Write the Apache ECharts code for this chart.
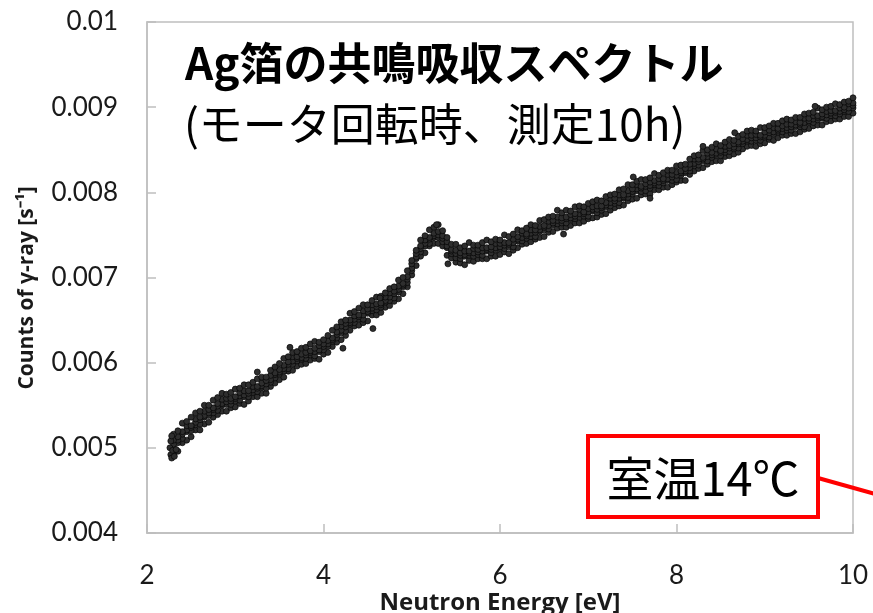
<!DOCTYPE html>
<html><head><meta charset="utf-8">
<script src="https://cdn.jsdelivr.net/npm/echarts@6/dist/echarts.min.js"></script>
<style>html,body{margin:0;padding:0;background:#fff}#c{width:873px;height:613px}</style>
</head><body><div id="c"></div>
<script>
const xTickValues = [2, 4, 6, 8, 10];
const yTickValues = [0.004, 0.005, 0.006, 0.007, 0.008, 0.009, 0.01];

const energy = [
2.30,2.35,2.40,2.45,2.50,2.55,2.60,2.65,2.70,2.75,
2.80,2.85,2.90,2.95,3.00,3.05,3.10,3.15,3.20,3.25,
3.30,3.35,3.40,3.45,3.50,3.55,3.60,3.65,3.70,3.75,
3.80,3.85,3.90,3.95,4.00,4.05,4.10,4.15,4.20,4.25,
4.30,4.35,4.40,4.45,4.50,4.55,4.60,4.65,4.70,4.75,
4.80,4.85,4.90,4.95,5.00,5.05,5.10,5.15,5.20,5.25,
5.30,5.35,5.40,5.45,5.50,5.55,5.60,5.65,5.70,5.75,
5.80,5.85,5.90,5.95,6.00,6.05,6.10,6.15,6.20,6.25,
6.30,6.35,6.40,6.45,6.50,6.55,6.60,6.65,6.70,6.75,
6.80,6.85,6.90,6.95,7.00,7.05,7.10,7.15,7.20,7.25,
7.30,7.35,7.40,7.45,7.50,7.55,7.60,7.65,7.70,7.75,
7.80,7.85,7.90,7.95,8.00,8.05,8.10,8.15,8.20,8.25,
8.30,8.35,8.40,8.45,8.50,8.55,8.60,8.65,8.70,8.75,
8.80,8.85,8.90,8.95,9.00,9.05,9.10,9.15,9.20,9.25,
9.30,9.35,9.40,9.45,9.50,9.55,9.60,9.65,9.70,9.75,
9.80,9.85,9.90,9.95,10.00];

// band of counts: top edge, upper-inner, centre, lower-inner, bottom edge
const countsTop = [
0.00516,0.00520,0.00529,0.00531,0.00536,0.00541,0.00543,0.00550,0.00550,0.00556,
0.00559,0.00564,0.00563,0.00565,0.00569,0.00570,0.00574,0.00574,0.00577,0.00581,
0.00583,0.00583,0.00591,0.00595,0.00599,0.00605,0.00607,0.00612,0.00613,0.00617,
0.00618,0.00622,0.00625,0.00624,0.00627,0.00632,0.00638,0.00642,0.00648,0.00650,
0.00658,0.00660,0.00664,0.00668,0.00668,0.00673,0.00677,0.00678,0.00682,0.00687,
0.00689,0.00697,0.00700,0.00708,0.00720,0.00732,0.00744,0.00749,0.00756,0.00759,
0.00762,0.00755,0.00747,0.00739,0.00739,0.00735,0.00737,0.00741,0.00738,0.00738,
0.00741,0.00744,0.00742,0.00745,0.00744,0.00750,0.00748,0.00751,0.00756,0.00755,
0.00758,0.00762,0.00761,0.00767,0.00768,0.00771,0.00772,0.00779,0.00776,0.00779,
0.00778,0.00783,0.00784,0.00783,0.00787,0.00789,0.00791,0.00790,0.00795,0.00797,
0.00798,0.00803,0.00804,0.00809,0.00809,0.00813,0.00815,0.00815,0.00817,0.00822,
0.00820,0.00823,0.00826,0.00826,0.00831,0.00832,0.00833,0.00839,0.00843,0.00844,
0.00849,0.00850,0.00853,0.00857,0.00855,0.00859,0.00862,0.00861,0.00866,0.00868,
0.00872,0.00873,0.00872,0.00876,0.00876,0.00878,0.00881,0.00881,0.00884,0.00886,
0.00885,0.00888,0.00888,0.00892,0.00893,0.00894,0.00899,0.00897,0.00900,0.00901,
0.00904,0.00903,0.00906,0.00907,0.00911];

const countsUpperInner = [
0.00509,0.00513,0.00519,0.00526,0.00526,0.00534,0.00536,0.00543,0.00545,0.00547,
0.00552,0.00557,0.00558,0.00558,0.00560,0.00565,0.00567,0.00567,0.00572,0.00572,
0.00576,0.00579,0.00585,0.00588,0.00592,0.00597,0.00601,0.00607,0.00607,0.00610,
0.00612,0.00614,0.00617,0.00620,0.00622,0.00626,0.00629,0.00636,0.00643,0.00646,
0.00650,0.00655,0.00656,0.00661,0.00663,0.00668,0.00669,0.00670,0.00677,0.00682,
0.00684,0.00690,0.00693,0.00701,0.00716,0.00728,0.00737,0.00744,0.00747,0.00752,
0.00754,0.00749,0.00742,0.00733,0.00732,0.00729,0.00731,0.00731,0.00734,0.00733,
0.00735,0.00735,0.00736,0.00740,0.00740,0.00741,0.00741,0.00745,0.00748,0.00752,
0.00751,0.00756,0.00756,0.00760,0.00761,0.00766,0.00767,0.00771,0.00770,0.00771,
0.00774,0.00775,0.00780,0.00777,0.00781,0.00783,0.00784,0.00784,0.00788,0.00793,
0.00793,0.00797,0.00797,0.00802,0.00804,0.00809,0.00807,0.00810,0.00812,0.00814,
0.00816,0.00816,0.00821,0.00821,0.00824,0.00825,0.00828,0.00833,0.00839,0.00839,
0.00841,0.00846,0.00847,0.00851,0.00849,0.00854,0.00855,0.00857,0.00859,0.00863,
0.00867,0.00867,0.00868,0.00867,0.00871,0.00873,0.00876,0.00875,0.00878,0.00880,
0.00880,0.00883,0.00882,0.00887,0.00887,0.00890,0.00890,0.00892,0.00895,0.00896,
0.00896,0.00899,0.00900,0.00904,0.00905];

const countsCentre = [
0.00504,0.00509,0.00516,0.00521,0.00524,0.00530,0.00533,0.00538,0.00541,0.00545,
0.00549,0.00552,0.00554,0.00555,0.00558,0.00561,0.00562,0.00564,0.00568,0.00570,
0.00573,0.00575,0.00580,0.00586,0.00589,0.00593,0.00598,0.00602,0.00605,0.00606,
0.00609,0.00612,0.00613,0.00615,0.00619,0.00622,0.00627,0.00633,0.00638,0.00642,
0.00647,0.00651,0.00654,0.00656,0.00660,0.00664,0.00666,0.00668,0.00673,0.00677,
0.00681,0.00686,0.00691,0.00698,0.00711,0.00724,0.00734,0.00740,0.00745,0.00749,
0.00750,0.00746,0.00737,0.00731,0.00728,0.00726,0.00727,0.00729,0.00729,0.00730,
0.00731,0.00733,0.00733,0.00735,0.00736,0.00738,0.00739,0.00741,0.00745,0.00747,
0.00749,0.00752,0.00753,0.00756,0.00759,0.00761,0.00764,0.00767,0.00767,0.00769,
0.00770,0.00772,0.00775,0.00775,0.00777,0.00780,0.00780,0.00782,0.00785,0.00788,
0.00790,0.00793,0.00795,0.00798,0.00801,0.00804,0.00805,0.00807,0.00808,0.00811,
0.00812,0.00814,0.00816,0.00818,0.00820,0.00823,0.00825,0.00829,0.00834,0.00836,
0.00839,0.00842,0.00844,0.00846,0.00847,0.00850,0.00852,0.00853,0.00857,0.00860,
0.00862,0.00864,0.00864,0.00865,0.00867,0.00870,0.00871,0.00873,0.00875,0.00876,
0.00877,0.00879,0.00880,0.00882,0.00884,0.00886,0.00888,0.00889,0.00891,0.00893,
0.00894,0.00895,0.00897,0.00899,0.00902];

const countsLowerInner = [
0.00500,0.00506,0.00511,0.00519,0.00520,0.00527,0.00528,0.00536,0.00538,0.00541,
0.00544,0.00550,0.00551,0.00551,0.00555,0.00556,0.00560,0.00560,0.00565,0.00566,
0.00571,0.00570,0.00577,0.00582,0.00587,0.00590,0.00593,0.00598,0.00602,0.00604,
0.00605,0.00609,0.00608,0.00613,0.00615,0.00619,0.00625,0.00629,0.00635,0.00637,
0.00645,0.00647,0.00651,0.00651,0.00658,0.00661,0.00662,0.00665,0.00671,0.00673,
0.00676,0.00683,0.00689,0.00694,0.00708,0.00722,0.00730,0.00737,0.00740,0.00747,
0.00747,0.00742,0.00735,0.00728,0.00723,0.00722,0.00725,0.00726,0.00725,0.00727,
0.00726,0.00731,0.00729,0.00732,0.00734,0.00734,0.00736,0.00736,0.00743,0.00743,
0.00746,0.00748,0.00748,0.00754,0.00756,0.00757,0.00762,0.00763,0.00764,0.00764,
0.00768,0.00769,0.00771,0.00772,0.00772,0.00778,0.00776,0.00779,0.00783,0.00784,
0.00787,0.00788,0.00793,0.00794,0.00798,0.00802,0.00801,0.00802,0.00805,0.00809,
0.00808,0.00811,0.00814,0.00814,0.00815,0.00820,0.00823,0.00825,0.00831,0.00832,
0.00837,0.00837,0.00841,0.00844,0.00843,0.00847,0.00848,0.00851,0.00852,0.00857,
0.00860,0.00860,0.00861,0.00861,0.00865,0.00865,0.00868,0.00871,0.00871,0.00873,
0.00873,0.00877,0.00877,0.00877,0.00882,0.00882,0.00885,0.00887,0.00887,0.00890,
0.00890,0.00892,0.00895,0.00895,0.00899];

const countsBottom = [
0.00493,0.00496,0.00506,0.00509,0.00513,0.00521,0.00521,0.00528,0.00530,0.00536,
0.00539,0.00543,0.00543,0.00547,0.00548,0.00552,0.00551,0.00555,0.00560,0.00560,
0.00564,0.00564,0.00572,0.00576,0.00580,0.00583,0.00590,0.00591,0.00596,0.00598,
0.00599,0.00603,0.00605,0.00604,0.00610,0.00612,0.00619,0.00624,0.00627,0.00632,
0.00638,0.00643,0.00644,0.00647,0.00649,0.00656,0.00656,0.00659,0.00665,0.00667,
0.00672,0.00675,0.00681,0.00689,0.00703,0.00714,0.00725,0.00729,0.00737,0.00740,
0.00740,0.00737,0.00726,0.00723,0.00718,0.00717,0.00715,0.00720,0.00719,0.00722,
0.00722,0.00722,0.00725,0.00725,0.00727,0.00730,0.00728,0.00732,0.00735,0.00739,
0.00740,0.00742,0.00745,0.00747,0.00748,0.00753,0.00754,0.00758,0.00759,0.00759,
0.00761,0.00764,0.00764,0.00766,0.00769,0.00770,0.00771,0.00774,0.00775,0.00779,
0.00782,0.00784,0.00785,0.00790,0.00792,0.00793,0.00797,0.00798,0.00798,0.00803,
0.00803,0.00806,0.00806,0.00809,0.00812,0.00814,0.00814,0.00821,0.00825,0.00828,
0.00829,0.00833,0.00836,0.00837,0.00837,0.00842,0.00843,0.00845,0.00847,0.00851,
0.00854,0.00855,0.00854,0.00857,0.00858,0.00862,0.00861,0.00864,0.00867,0.00867,
0.00869,0.00869,0.00871,0.00874,0.00875,0.00878,0.00879,0.00879,0.00883,0.00884,
0.00886,0.00886,0.00889,0.00889,0.00893];

// stray points and the thick start of the band
const extraEnergy = [2.26,2.27,2.27,2.28,2.28,2.29,2.31,2.33,3.25,3.62,4.22,4.56,4.64,5.28,5.41,6.72,7.51,7.70,8.30,8.66,9.57];
const extraCounts = [0.00500,0.00492,0.00508,0.00488,0.00514,0.00497,0.00490,0.00498,0.00589,0.00618,0.00617,0.00640,0.00676,0.00762,0.00716,0.00751,0.00818,0.00793,0.00854,0.00870,0.00901];

const titleText = 'Ag箔の共鳴吸収スペクトル';
const subtitleText = '(モータ回転時、測定10h)';
const noteText = '室温14℃';
const xName = 'Neutron Energy [eV]';
const yName = 'Counts of γ-ray [s⁻¹]';

const points = [];
[countsBottom, countsLowerInner, countsCentre, countsUpperInner, countsTop].forEach(arr => {
  energy.forEach((e, i) => { if (arr[i] !== undefined) points.push([e, arr[i]]); });
});
extraEnergy.forEach((e, i) => points.push([e, extraCounts[i]]));

const axisGray = '#bfbfbf';
const chart = echarts.init(document.getElementById('c'));
chart.setOption({
  animation: false,
  grid: { left: 147, right: 20, top: 22, bottom: 80, outerBoundsMode: 'none', containLabel: false,
          show: true, borderColor: axisGray, borderWidth: 1.5 },
  xAxis: {
    type: 'value', min: xTickValues[0], max: xTickValues[xTickValues.length - 1], interval: 2,
    axisLine: { lineStyle: { color: axisGray, width: 1.5 } },
    axisTick: { inside: true, length: 9, lineStyle: { color: axisGray, width: 1.5 } },
    splitLine: { show: false },
    axisLabel: { margin: 30, fontSize: 26, color: '#1a1a1a', fontFamily: 'Lato' }
  },
  yAxis: {
    type: 'value', min: yTickValues[0], max: yTickValues[yTickValues.length - 1], interval: 0.001,
    axisLine: { show: true, lineStyle: { color: axisGray, width: 1.5 } },
    axisTick: { show: true, inside: true, length: 9, lineStyle: { color: axisGray, width: 1.5 } },
    splitLine: { show: false },
    axisLabel: { margin: 29, fontSize: 26, color: '#1a1a1a', fontFamily: 'Lato',
      formatter: v => String(Number(v.toFixed(3))) }
  },
  series: [{
    type: 'scatter', data: points, symbol: 'circle', symbolSize: 6,
    itemStyle: { color: '#2e2e2e', borderColor: '#050505', borderWidth: 0.7, opacity: 1 }
  }],
  graphic: [
    { type: 'text', x: 185, y: 63, style: { text: titleText, fontSize: 44, fontWeight: 'bold', fontFamily: 'Noto Sans CJK JP', fill: '#000', textAlign: 'left', textVerticalAlign: 'middle', align: 'left', verticalAlign: 'middle' } },
    { type: 'text', x: 184, y: 124, style: { text: subtitleText, fontSize: 44, fontFamily: 'Noto Sans CJK JP', fill: '#000', textAlign: 'left', textVerticalAlign: 'middle', align: 'left', verticalAlign: 'middle' } },
    { type: 'text', x: 500, y: 603, style: { text: xName, fontSize: 24, fontWeight: 'bold', fontFamily: 'Open Sans', fill: '#1a1a1a', textAlign: 'center', textVerticalAlign: 'middle', align: 'center', verticalAlign: 'middle' } },
    { type: 'text', x: 27, y: 288, rotation: Math.PI / 2, style: { text: yName, fontSize: 21, fontWeight: 'bold', fontFamily: 'Open Sans', fill: '#1a1a1a', textAlign: 'center', textVerticalAlign: 'middle', align: 'center', verticalAlign: 'middle' } },
    { type: 'line', shape: { x1: 818, y1: 478, x2: 875, y2: 494 }, style: { stroke: '#ff0000', lineWidth: 4 } },
    { type: 'rect', shape: { x: 588, y: 436, width: 230, height: 81 }, style: { fill: '#fff', stroke: '#ff0000', lineWidth: 4 } },
    { type: 'text', x: 703, y: 478, style: { text: noteText, fontSize: 47, fontFamily: 'Noto Sans CJK JP', fill: '#000', textAlign: 'center', textVerticalAlign: 'middle', align: 'center', verticalAlign: 'middle' } }
  ]
});
</script></body></html>
